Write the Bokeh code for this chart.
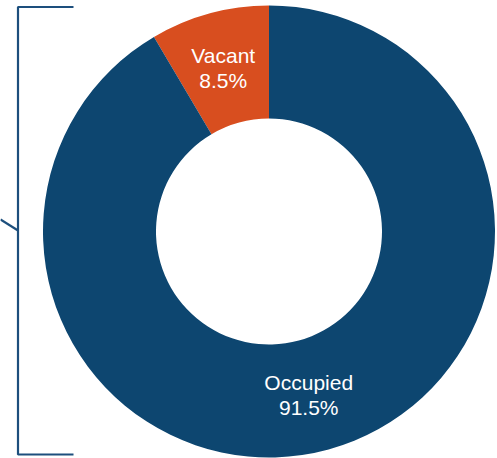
import math
from bokeh.plotting import figure
from bokeh.models import Range1d, ColumnDataSource
from bokeh.core.properties import value
from bokeh.embed import file_html
from bokeh.resources import INLINE

# ---- data ----
categories = ["Vacant", "Occupied"]
shares = [8.5, 91.5]
colors = ["#d84e1f", "#0d4670"]

# ---- layout constants ----
W, H = 497, 458
CX, CY = 268.5, H - 231
R_OUT, R_IN = 226, 113
LABEL_DX = [-1, -5]   # small label nudges (px)

total = sum(shares)
starts, ends, lx, ly, labels = [], [], [], [], []
a = math.pi / 2
r_mid = (R_OUT + R_IN) / 2
for c, s in zip(categories, shares):
    span = 2 * math.pi * s / total
    starts.append(a)
    ends.append(a + span)
    mid = a + span / 2
    lx.append(CX + r_mid * math.cos(mid))
    ly.append(CY + r_mid * math.sin(mid))
    labels.append(f"{c}\n{s}%")
    a += span

src = ColumnDataSource(dict(start=starts, end=ends, color=colors, lx=lx, ly=ly,
                            label=labels, dx=LABEL_DX))

p = figure(width=W, height=H, output_backend="svg", toolbar_location=None,
           x_range=Range1d(0, W), y_range=Range1d(0, H), min_border=0,
           outline_line_color=None, background_fill_color="white", border_fill_color="white")
p.axis.visible = False
p.grid.visible = False

p.annular_wedge(x=CX, y=CY, inner_radius=R_IN, outer_radius=R_OUT,
                start_angle="start", end_angle="end", color="color",
                line_color=None, direction="anticlock", source=src)

p.text(x="lx", y="ly", text="label", source=src, x_offset="dx", text_align="center",
       text_baseline="middle", text_font=value("Liberation Sans"),
       text_font_size="21px", text_color="white", text_line_height=1.1)

# bracket decoration
bc = "#1d4f7d"
p.line([73, 17.5, 17.5, 73], [H - 6.5, H - 6.5, H - 454, H - 454], line_color=bc, line_width=2.2)
p.line([0, 17.5], [H - 219, H - 230], line_color=bc, line_width=2.2)

open("out.html", "w").write(file_html(p, INLINE))
